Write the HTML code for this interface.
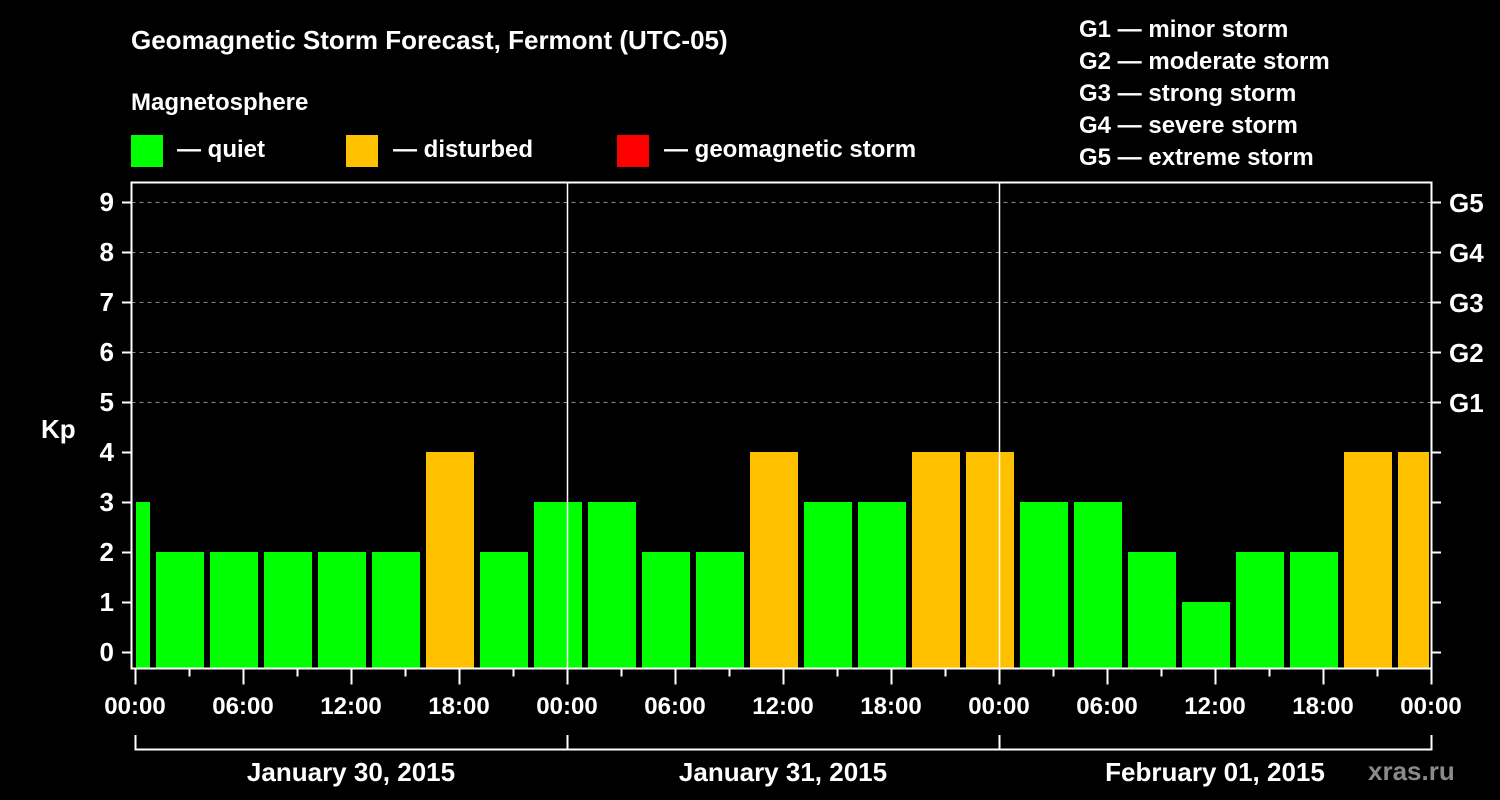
<!DOCTYPE html>
<html><head><meta charset="utf-8"><style>
html,body{margin:0;padding:0;background:#000;width:1500px;height:800px;overflow:hidden}
svg text{font-family:"Liberation Sans",sans-serif;font-weight:bold;fill:#fff}
</style></head><body>
<svg id="chart" width="1500" height="800" xmlns="http://www.w3.org/2000/svg">
<rect width="1500" height="800" fill="#000"/>
<text x="131" y="49" font-size="26">Geomagnetic Storm Forecast, Fermont (UTC-05)</text>
<text x="131" y="110" font-size="24">Magnetosphere</text>
<g><rect x="131" y="135" width="32" height="32" fill="#00ff00"/><text x="177" y="157" font-size="24">— quiet</text></g>
<g><rect x="346" y="135" width="32" height="32" fill="#ffc000"/><text x="393" y="157" font-size="24">— disturbed</text></g>
<g><rect x="617" y="135" width="32" height="32" fill="#ff0000"/><text x="664" y="157" font-size="24">— geomagnetic storm</text></g>
<g font-size="24">
<text x="1079" y="37">G1 — minor storm</text>
<text x="1079" y="69">G2 — moderate storm</text>
<text x="1079" y="101">G3 — strong storm</text>
<text x="1079" y="133">G4 — severe storm</text>
<text x="1079" y="165">G5 — extreme storm</text>
</g>
<text x="41" y="438" font-size="26">Kp</text>
<text x="1368" y="780" font-size="26" fill="#888" style="fill:#8a8a8a">xras.ru</text>
<g id="grid"></g><g id="bars"></g><g id="axes"></g>
</svg>
<script>
const kpValues=[3,2,2,2,2,2,4,2,3,3,2,2,4,3,3,4,4,3,3,2,1,2,2,4,4];
const blockStartHours=[-2,1,4,7,10,13,16,19,22,25,28,31,34,37,40,43,46,49,52,55,58,61,64,67,70];
const dayLabels=["January 30, 2015","January 31, 2015","February 01, 2015"];
const hourLabels=["00:00","06:00","12:00","18:00"];
const gLabels=["G1","G2","G3","G4","G5"];
const NS="http://www.w3.org/2000/svg";
const X0=135,PXH=18,Y0=652,PXU=50,L=131.5,R=1431.5,T=182.5,B=668.5;
const x=h=>X0+h*PXH, y=v=>Y0-v*PXU;
function mk(tag,attrs,parent,txt){const e=document.createElementNS(NS,tag);for(const k in attrs)e.setAttribute(k,attrs[k]);if(txt!==undefined)e.textContent=txt;document.getElementById(parent).appendChild(e);return e;}
// grid
for(let v=5;v<=9;v++){const e=mk('line',{x1:L,x2:R,y1:y(v)+.5,y2:y(v)+.5,stroke:'#888','stroke-dasharray':'4,4','stroke-width':1},'grid');

}
// bars
kpValues.forEach((v,i)=>{const h=blockStartHours[i];let x1=Math.max(x(h)+3,136),x2=Math.min(x(h+3)-3,1429);
const c=v>=5?'#ff0000':(v>=4?'#ffc000':'#00ff00');
const r=mk('rect',{x:x1,y:y(v),width:x2-x1,height:B-0.5-y(v),fill:c},'bars');

});
// day separators
for(let d=1;d<3;d++){const e=mk('line',{x1:x(d*24)+.5,x2:x(d*24)+.5,y1:T,y2:B,stroke:'#fff','stroke-width':1.5},'axes');

}
// frame
const f=mk('rect',{x:L,y:T,width:R-L,height:B-T,fill:'none',stroke:'#fff','stroke-width':2},'axes');


// y ticks
for(let v=0;v<=9;v++){mk('line',{x1:122,x2:L,y1:y(v)+.5,y2:y(v)+.5,stroke:'#fff','stroke-width':2},'axes');
mk('line',{x1:R,x2:1441,y1:y(v)+.5,y2:y(v)+.5,stroke:'#fff','stroke-width':2},'axes');
const t=mk('text',{x:114,y:y(v)+9,'font-size':26,'text-anchor':'end'},'axes',String(v));

}
gLabels.forEach((g,i)=>{const t=mk('text',{x:1449,y:y(5+i)+10,'font-size':26},'axes',g);

});
// x ticks
for(let h=0;h<=72;h+=3){const big=h%6===0;mk('line',{x1:x(h)+.5,x2:x(h)+.5,y1:B,y2:B+(big?16:8),stroke:'#fff','stroke-width':2},'axes');
if(big){const t=mk('text',{x:x(h),y:714,'font-size':24,'text-anchor':'middle'},'axes',h%24===0?'00:00':hourLabels[(h%24)/6]);

}}
// day brackets
mk('path',{d:`M${x(0)+.5},735 V749.5 H${x(72)+.5} V735 M${x(24)+.5},735 V749.5 M${x(48)+.5},735 V749.5`,stroke:'#fff','stroke-width':2,fill:'none'},'axes');
dayLabels.forEach((d,i)=>{const t=mk('text',{x:x(i*24+12),y:781,'font-size':26,'text-anchor':'middle'},'axes',d);

});
</script>
</body></html>
